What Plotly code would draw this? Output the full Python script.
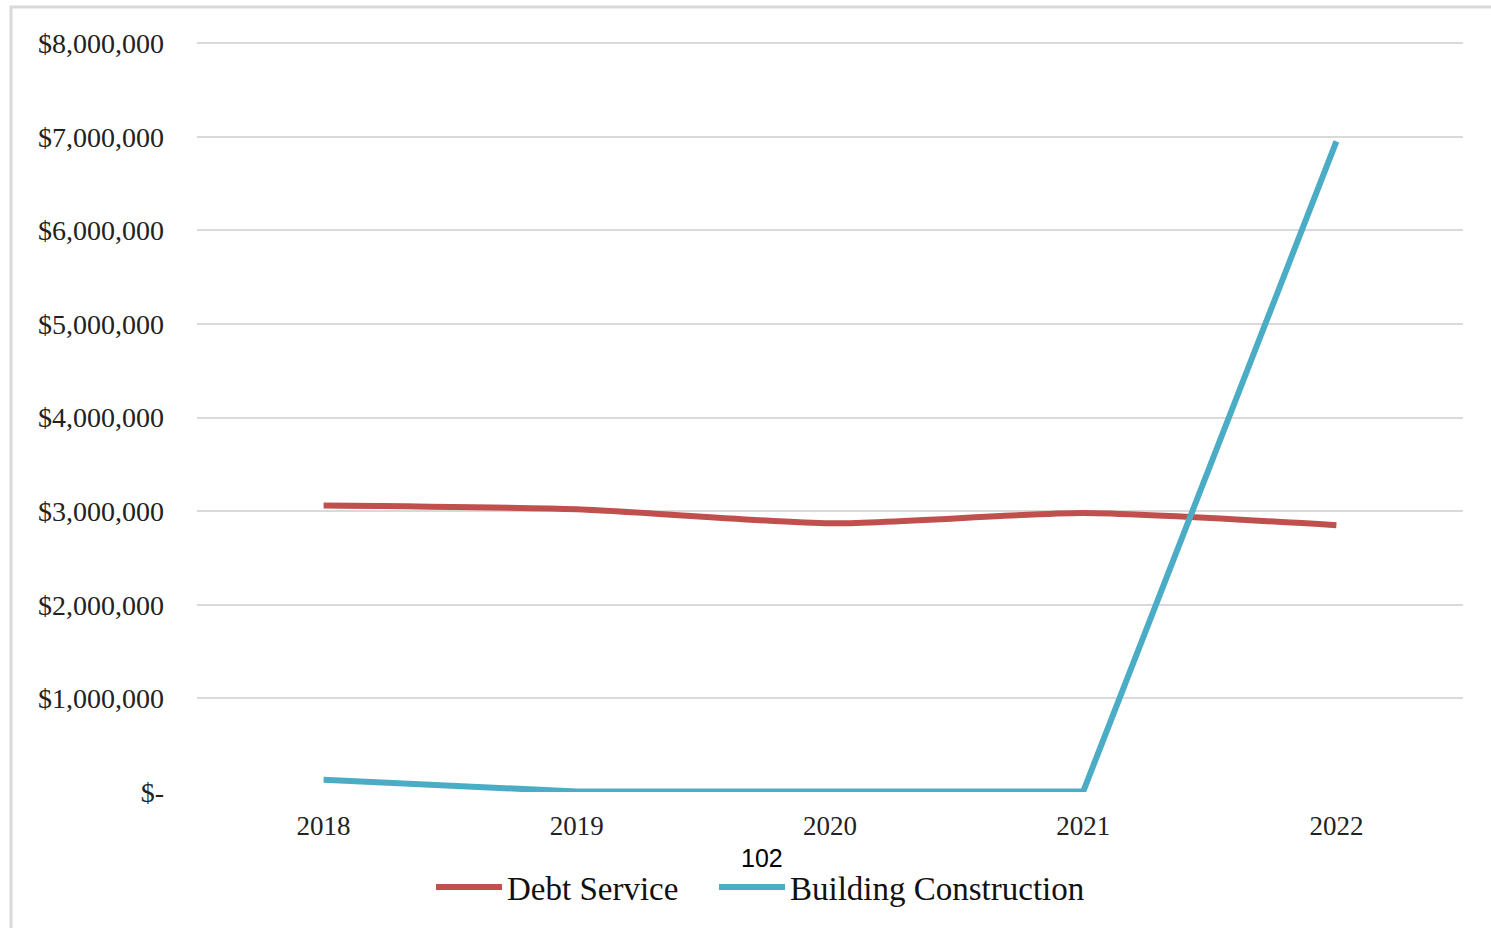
import plotly.graph_objects as go

years = ["2018", "2019", "2020", "2021", "2022"]
debt_service = [3060000, 3020000, 2870000, 2980000, 2850000]
building_construction = [130000, 5000, 5000, 5000, 6950000]

y_tickvals = [0, 1000000, 2000000, 3000000, 4000000, 5000000, 6000000, 7000000, 8000000]
y_ticktext = ["$-", "$1,000,000", "$2,000,000", "$3,000,000", "$4,000,000",
              "$5,000,000", "$6,000,000", "$7,000,000", "$8,000,000"]

serif = "Liberation Serif, Times New Roman, serif"

# plot area in pixels: x 197..1463, y 42..792
def px_x(p):
    return (p - 197) / 1266

def px_y(p):
    return (792 - p) / 750

fig = go.Figure()
fig.add_trace(go.Scatter(
    x=years, y=debt_service, name="Debt Service", mode="lines",
    line=dict(color="#C0504D", width=6, shape="spline", smoothing=0.6),
    legend="legend",
))
fig.add_trace(go.Scatter(
    x=years, y=building_construction, name="Building Construction", mode="lines",
    line=dict(color="#4BACC6", width=6),
    legend="legend2",
))

# page number from the source document
fig.add_annotation(
    text="102", x=px_x(762), y=px_y(858), yanchor="middle",
    xref="paper", yref="paper", showarrow=False,
    font=dict(family="Liberation Sans, Arial, sans-serif", size=25, color="#000"),
)

# chart frame (runs off the right and bottom of the picture)
fig.add_shape(
    type="rect", xref="paper", yref="paper",
    x0=px_x(11), x1=px_x(1510), y0=px_y(950), y1=px_y(7),
    line=dict(color="#D9D9D9", width=3), layer="below",
)

leg = dict(
    orientation="h", xanchor="left", y=px_y(887), yanchor="middle",
    font=dict(family=serif, size=33, color="#111"),
    itemwidth=66, bgcolor="rgba(0,0,0,0)",
)

fig.update_layout(
    width=1491, height=928,
    margin=dict(l=197, r=28, t=42, b=136),
    paper_bgcolor="white", plot_bgcolor="white",
    font=dict(family=serif, size=27, color="#222"),
    showlegend=True,
    legend=dict(leg, x=px_x(431)),
    legend2=dict(leg, x=px_x(714)),
    xaxis=dict(
        type="category", range=[-0.5, 4.5], showgrid=False, zeroline=False, showline=False,
        ticks="", tickfont=dict(size=27), ticklabelstandoff=15,
    ),
    yaxis=dict(
        range=[0, 8012000], tickvals=y_tickvals, ticktext=y_ticktext,
        showgrid=True, gridcolor="#D9D9D9", gridwidth=2,
        zeroline=False, showline=False, ticks="",
        tickfont=dict(size=28), ticklabelstandoff=32,
    ),
)

fig.write_html("out.html", config={"displayModeBar": False},
               post_script="document.body.style.margin='0';")
